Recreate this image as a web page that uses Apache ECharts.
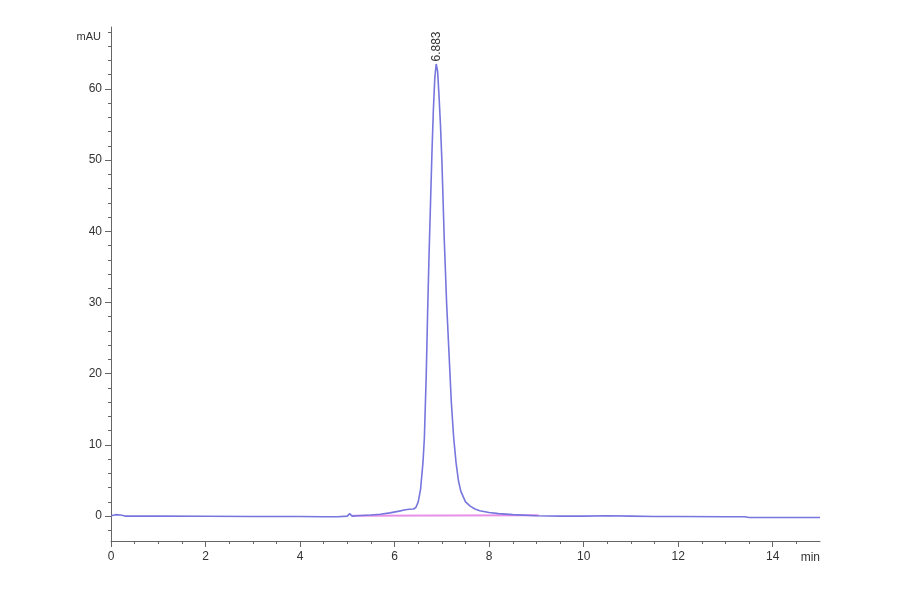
<!DOCTYPE html>
<html>
<head>
<meta charset="utf-8">
<script src="https://cdn.jsdelivr.net/npm/echarts@6/dist/echarts.min.js"></script>
<style>html,body{margin:0;padding:0;background:#fff}#c{width:900px;height:594px}</style>
</head>
<body>
<div id="c"></div>
<script>
const times = [0, 0.1, 0.2, 0.3, 1, 2, 3, 4, 4.5, 4.8, 5.0, 5.05, 5.1, 5.2, 5.5, 5.7, 5.9, 6.1, 6.2, 6.3, 6.4, 6.45, 6.5, 6.55, 6.6, 6.63, 6.67, 6.7, 6.73, 6.76, 6.79, 6.82, 6.85, 6.88, 6.91, 6.94, 6.97, 7.0, 7.05, 7.1, 7.15, 7.2, 7.25, 7.3, 7.35, 7.4, 7.5, 7.6, 7.7, 7.8, 8.0, 8.2, 8.5, 9.0, 9.5, 10, 10.5, 11, 11.5, 12, 13, 13.4, 13.5, 14, 15];
const signal = [0.05, 0.2, 0.15, 0.0, 0.0, -0.02, -0.05, -0.05, -0.1, -0.1, 0.0, 0.35, 0.0, 0.05, 0.15, 0.25, 0.45, 0.7, 0.85, 0.95, 1.0, 1.2, 2.0, 3.8, 7.5, 11, 20, 29, 37, 44, 51, 57, 61.5, 63.5, 62.5, 59, 55, 50, 39, 30, 23, 16, 11, 7.5, 5, 3.5, 2.0, 1.4, 1.0, 0.75, 0.5, 0.35, 0.2, 0.05, 0.0, 0.0, 0.05, 0.0, -0.05, -0.05, -0.1, -0.1, -0.2, -0.2, -0.2];
const baselineTimes = [5.1, 9.05];
const baselineValues = [0.05, 0.1];
const peakTime = 6.88;
const peakValue = 63.5;
const peakLabel = '6.883';
const xTicks = [0, 2, 4, 6, 8, 10, 12, 14];
const xMinorTicks = [0.5,1,1.5,2,2.5,3,3.5,4,4.5,5,5.5,6,6.5,7,7.5,8,8.5,9,9.5,10,10.5,11,11.5,12,12.5,13,13.5,14,14.5];
const yTicks = [0, 10, 20, 30, 40, 50, 60];
const yMinorTicks = [-2,0,2,4,6,8,10,12,14,16,18,20,22,24,26,28,30,32,34,36,38,40,42,44,46,48,50,52,54,56,58,60,62,64,66,68];

const axisColor = '#666';
const fontFamily = 'Liberation Sans, Arial, sans-serif';
const labelStyle = {color: '#333', fontSize: 12, fontFamily: fontFamily};

const mainData = times.map((t, i) => [t, signal[i]]);
const baseData = baselineTimes.map((t, i) => [t, baselineValues[i]]);

const chart = echarts.init(document.getElementById('c'), null, {renderer: 'canvas'});
chart.setOption({
  animation: false,
  backgroundColor: '#fff',
  grid: {left: 111, right: 80, top: 27, bottom: 53},
  xAxis: [{
    type: 'value', min: 0, max: 15,
    name: 'min', nameLocation: 'end', nameGap: 0,
    nameTextStyle: {color: '#333', fontSize: 12, fontFamily: fontFamily, align: 'right', verticalAlign: 'top', padding: [11, 0, 0, 0]},
    axisLine: {show: true, onZero: false, lineStyle: {color: axisColor, width: 1}},
    axisTick: {show: true, customValues: xTicks, length: 6, lineStyle: {color: axisColor}},
    axisLabel: {customValues: xTicks, margin: 10, ...labelStyle},
    splitLine: {show: false}
  }, {
    type: 'value', min: 0, max: 15, position: 'bottom',
    axisLine: {show: false, onZero: false},
    axisTick: {show: true, customValues: xMinorTicks, length: 3, lineStyle: {color: axisColor}},
    axisLabel: {show: false},
    splitLine: {show: false}
  }],
  yAxis: [{
    type: 'value', min: -3.5, max: 68.7,
    name: 'mAU', nameLocation: 'end', nameGap: 0,
    nameTextStyle: {color: '#333', fontSize: 11, fontFamily: fontFamily, align: 'right', verticalAlign: 'top', padding: [4, 10, 0, 0]},
    axisLine: {show: true, lineStyle: {color: axisColor, width: 1}},
    axisTick: {show: true, customValues: yTicks, length: 6, lineStyle: {color: axisColor}},
    axisLabel: {customValues: yTicks, margin: 9, ...labelStyle},
    splitLine: {show: false}
  }, {
    type: 'value', min: -3.5, max: 68.7, position: 'left',
    axisLine: {show: false},
    axisTick: {show: true, customValues: yMinorTicks, length: 3, lineStyle: {color: axisColor}},
    axisLabel: {show: false},
    splitLine: {show: false}
  }],
  series: [{
    type: 'line', xAxisIndex: 0, yAxisIndex: 0,
    data: baseData, symbol: 'none', silent: true,
    lineStyle: {color: '#e890e8', width: 2}
  }, {
    type: 'line', xAxisIndex: 0, yAxisIndex: 0,
    data: mainData, symbol: 'none', showSymbol: false,
    lineStyle: {color: '#7676de', width: 1.6},
    markPoint: {
      silent: true,
      symbol: 'circle', symbolSize: 1,
      itemStyle: {color: 'rgba(0,0,0,0)'},
      label: {show: true, position: 'top', rotate: 90, align: 'left', verticalAlign: 'middle', distance: 2, color: '#333', fontSize: 12, fontFamily: fontFamily},
      data: [{coord: [peakTime, peakValue], label: {formatter: peakLabel}}]
    }
  }]
});
</script>
</body>
</html>
